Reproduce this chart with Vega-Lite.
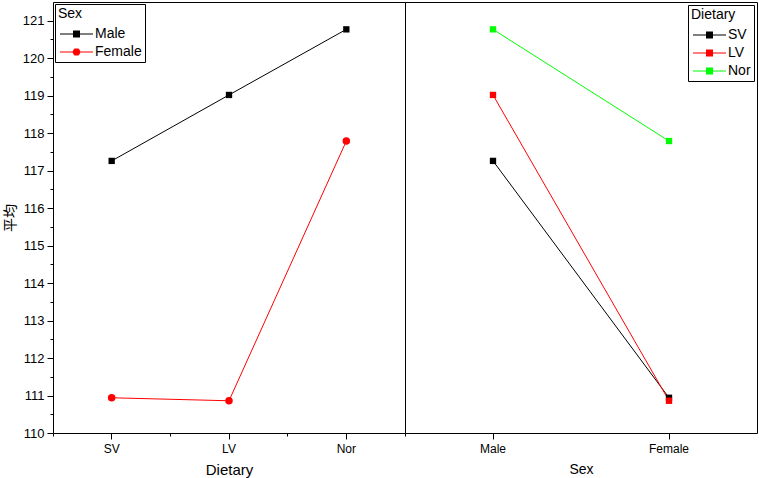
{
  "$schema": "https://vega.github.io/schema/vega-lite/v6.json",
  "padding": {"left": 2, "top": 1, "right": 1, "bottom": 0},
  "background": "white",
  "spacing": 0,
  "bounds": "flush",
  "resolve": {
    "scale": {"color": "independent", "shape": "independent"},
    "legend": {"color": "independent", "shape": "independent"}
  },
  "datasets": {
    "means": [
      {"Dietary": "SV", "Sex": "Male", "Mean": 117.26},
      {"Dietary": "LV", "Sex": "Male", "Mean": 119.02},
      {"Dietary": "Nor", "Sex": "Male", "Mean": 120.77},
      {"Dietary": "SV", "Sex": "Female", "Mean": 110.94},
      {"Dietary": "LV", "Sex": "Female", "Mean": 110.86},
      {"Dietary": "Nor", "Sex": "Female", "Mean": 117.79}
    ]
  },
  "config": {
    "view": {"stroke": "black", "strokeWidth": 1},
    "axis": {
      "domain": false,
      "grid": false,
      "tickColor": "black",
      "tickWidth": 1,
      "labelColor": "black",
      "titleColor": "black",
      "labelFont": "Liberation Sans",
      "titleFont": "Liberation Sans",
      "titleFontWeight": "normal",
      "labelFontSize": 12
    },
    "legend": {
      "strokeColor": "black",
      "fillColor": "white",
      "padding": 3,
      "offset": 2,
      "titleFont": "Liberation Sans",
      "titleFontSize": 14,
      "titleFontWeight": "normal",
      "titleColor": "black",
      "titlePadding": 6,
      "labelFont": "Liberation Sans",
      "labelFontSize": 14,
      "labelColor": "black",
      "symbolSize": 100,
      "symbolStrokeWidth": 1.2,
      "symbolOpacity": 1,
      "labelOffset": 23,
      "rowPadding": 4
    }
  },
  "hconcat": [
    {
      "width": 352,
      "height": 431,
      "data": {"name": "means"},
      "resolve": {"axis": {"x": "independent", "y": "independent"}},
      "layer": [
        {
          "transform": [{"filter": "false"}],
          "mark": {"type": "point", "filled": false, "opacity": 1, "strokeWidth": 1.2},
          "encoding": {
            "color": {
              "field": "Sex", "type": "nominal",
              "scale": {"domain": ["Male", "Female"], "range": ["#000000", "#ff0000"]},
              "legend": {"title": "Sex", "orient": "top-left"}
            },
            "shape": {
              "field": "Sex", "type": "nominal",
              "scale": {
                "domain": ["Male", "Female"],
                "range": [
                  "M-1,0H5.6M1.6,-0.6H3M1.6,-0.4H3M1.6,-0.2H3M1.6,0.2H3M1.6,0.4H3M1.6,0.6H3",
                  "M-1,0H5.6M1.84,-0.6H2.76M1.66,-0.4H2.94M1.58,-0.2H3.02M1.58,0.2H3.02M1.66,0.4H2.94M1.84,0.6H2.76"
                ]
              },
              "legend": {"title": "Sex", "orient": "top-left"}
            }
          }
        },
        {
          "mark": {"type": "line", "strokeWidth": 1},
          "encoding": {
            "x": {
              "field": "Dietary", "type": "nominal", "sort": ["SV", "LV", "Nor"],
              "scale": {"type": "band", "paddingInner": 0, "paddingOuter": 0},
              "axis": {"orient": "bottom", "labelAngle": 0, "tickSize": 6, "labelPadding": 4, "title": "Dietary", "titleFontSize": 15, "titlePadding": 8}
            },
            "y": {
              "field": "Mean", "type": "quantitative",
              "scale": {"domain": [110, 121.5], "nice": false, "zero": false},
              "axis": {"orient": "left", "values": [110, 111, 112, 113, 114, 115, 116, 117, 118, 119, 120, 121], "tickSize": 6, "labelPadding": 3, "labelFontSize": 13, "title": "平均", "titleFont": "Noto Sans CJK JP", "titleFontSize": 14, "titlePadding": 5}
            },
            "color": {"field": "Sex", "type": "nominal", "legend": null}
          }
        },
        {
          "transform": [{"filter": "datum.Sex == 'Male'"}],
          "mark": {"type": "point", "shape": "square", "filled": true, "opacity": 1, "size": 40, "strokeWidth": 0},
          "encoding": {
            "x": {
              "field": "Dietary", "type": "nominal", "sort": ["SV", "LV", "Nor"],
              "axis": {"orient": "bottom", "bandPosition": 0, "labels": false, "tickSize": 3, "title": null}
            },
            "y": {
              "field": "Mean", "type": "quantitative",
              "axis": {"orient": "left", "values": [110.5, 111.5, 112.5, 113.5, 114.5, 115.5, 116.5, 117.5, 118.5, 119.5, 120.5], "labels": false, "tickSize": 3, "title": null}
            },
            "color": {"field": "Sex", "type": "nominal", "legend": null}
          }
        },
        {
          "transform": [{"filter": "datum.Sex == 'Female'"}],
          "mark": {"type": "point", "shape": "circle", "filled": true, "opacity": 1, "size": 56, "strokeWidth": 0},
          "encoding": {
            "x": {"field": "Dietary", "type": "nominal", "sort": ["SV", "LV", "Nor"], "axis": null},
            "y": {"field": "Mean", "type": "quantitative", "axis": null},
            "color": {"field": "Sex", "type": "nominal", "legend": null}
          }
        }
      ]
    },
    {
      "width": 352,
      "height": 431,
      "data": {"name": "means"},
      "resolve": {"axis": {"x": "independent"}},
      "layer": [
        {
          "transform": [{"filter": "false"}],
          "mark": {
            "type": "point", "filled": false, "opacity": 1, "strokeWidth": 1.2,
            "shape": "M-1,0H5.6M1.6,-0.6H3M1.6,-0.4H3M1.6,-0.2H3M1.6,0.2H3M1.6,0.4H3M1.6,0.6H3"
          },
          "encoding": {
            "color": {
              "field": "Dietary", "type": "nominal",
              "scale": {"domain": ["SV", "LV", "Nor"], "range": ["#000000", "#ff0000", "#00ff00"]},
              "legend": {
                "title": "Dietary", "orient": "top-right", "offset": 3,
                "symbolType": "M-1,0H5.6M1.6,-0.6H3M1.6,-0.4H3M1.6,-0.2H3M1.6,0.2H3M1.6,0.4H3M1.6,0.6H3"
              }
            }
          }
        },
        {
          "mark": {"type": "line", "strokeWidth": 1},
          "encoding": {
            "x": {
              "field": "Sex", "type": "nominal", "sort": ["Male", "Female"],
              "scale": {"type": "band", "paddingInner": 0, "paddingOuter": 0},
              "axis": {"orient": "bottom", "labelAngle": 0, "tickSize": 6, "labelPadding": 4, "title": "Sex", "titleFontSize": 14, "titlePadding": 8}
            },
            "y": {
              "field": "Mean", "type": "quantitative",
              "scale": {"domain": [110, 121.5], "nice": false, "zero": false},
              "axis": null
            },
            "color": {"field": "Dietary", "type": "nominal", "legend": null}
          }
        },
        {
          "mark": {"type": "point", "shape": "square", "filled": true, "opacity": 1, "size": 40, "strokeWidth": 0},
          "encoding": {
            "x": {
              "field": "Sex", "type": "nominal", "sort": ["Male", "Female"],
              "axis": {"orient": "bottom", "bandPosition": 0, "values": ["Male"], "labels": false, "tickSize": 3, "title": null}
            },
            "y": {"field": "Mean", "type": "quantitative", "axis": null},
            "color": {"field": "Dietary", "type": "nominal", "legend": null}
          }
        }
      ]
    }
  ]
}
